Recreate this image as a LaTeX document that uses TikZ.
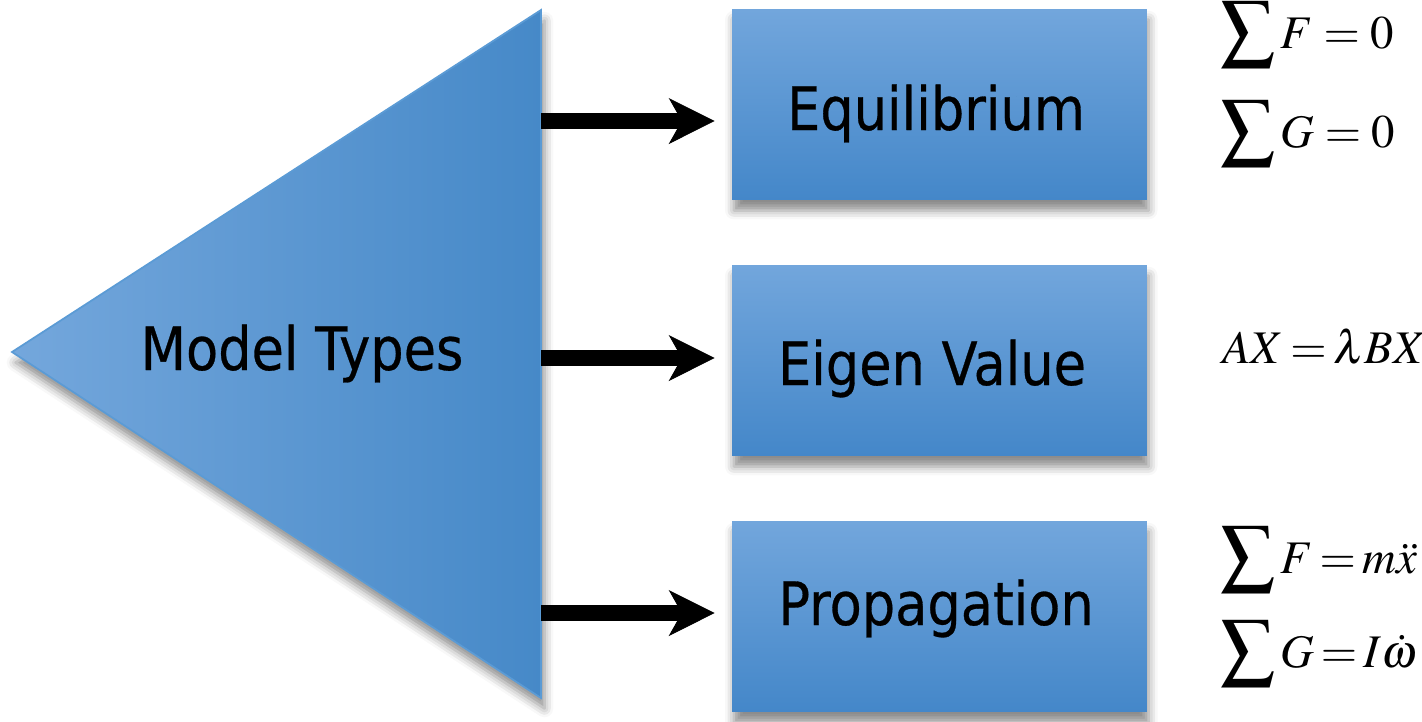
\documentclass[tikz,border=0pt]{standalone}
\usepackage{mathptmx}
\usepackage[no-math]{fontspec}
\newfontfamily\boxfont{DejaVu Sans}[FakeStretch=0.88, FakeBold=0.5]
\usetikzlibrary{arrows.meta,shadows.blur}
\definecolor{triL}{HTML}{74A7DC}
\definecolor{triR}{HTML}{4689C8}
\definecolor{boxT}{HTML}{72A6DC}
\definecolor{boxB}{HTML}{4487C9}
\definecolor{triEdge}{HTML}{5B9BD5}
\newcommand{\bigsum}{\smash{\scalebox{1.15}{$\displaystyle\sum$}}\,}
\begin{document}
\begin{tikzpicture}[x=0.02cm, y=-0.02cm, line join=miter,
    modelbox/.style={rectangle, inner sep=0pt, minimum width=8.3cm, minimum height=3.82cm,
      top color=boxT, bottom color=boxB,
      blur shadow={shadow xshift=1pt, shadow yshift=-6pt, shadow blur radius=5pt, shadow opacity=45}},
    boxtext/.style={inner sep=0pt, anchor=base, font=\boxfont\fontsize{34}{40}\selectfont},
    eqtext/.style={inner sep=0pt, anchor=base west, font=\fontsize{26.6}{30}\selectfont},
    flowarrow/.style={draw=black, line width=0.32cm, shorten >=0.34cm,
      -{Stealth[length=0.92cm, width=0.92cm, inset=0.26cm, line width=0.5pt, fill=black]}}]
  \useasboundingbox (0,0) rectangle (1422,721);
  % triangle
  \coordinate (apex) at (12,352);
  \coordinate (ttop) at (541,10);
  \coordinate (tbot) at (541,698);
  \shade[left color=triL, right color=triR, draw=triEdge, line width=1pt,
    blur shadow={shadow xshift=2pt, shadow yshift=-6pt, shadow blur radius=5pt, shadow opacity=45}]
    (apex) -- (ttop) -- (tbot) -- cycle;
  \node[boxtext] (model) at (302,370) {Model Types};
  % boxes
  \node[modelbox] (equ) at (939.5,104.5) {};
  \node[modelbox] (eig) at (939.5,360.5) {};
  \node[modelbox] (pro) at (939.5,616.5) {};
  \node[boxtext] (equt) at (936,130) {Equilibrium};
  \node[boxtext] (eigt) at (932,385) {Eigen Value};
  \node[boxtext] (prot) at (936,625) {Propagation};
  % arrows
  \coordinate (outA) at (541,121);
  \coordinate (outB) at (541,358);
  \coordinate (outC) at (541,613);
  \draw[flowarrow] (outA) -- (outA -| equ.west);
  \draw[flowarrow] (outB) -- (outB -| eig.west);
  \draw[flowarrow] (outC) -- (outC -| pro.west);
  % equations
  \node[eqtext] (eqF) at (1220,48) {$\bigsum F = 0$};
  \node[eqtext] (eqG) at (1220,147) {$\bigsum G = 0$};
  \node[eqtext] (eqL) at (1222,363) {$AX\:{=}\:\lambda BX$};
  \node[eqtext] (prF) at (1220,573) {$\bigsum F\:{=}\:m\ddot{x}$};
  \node[eqtext] (prG) at (1220,667) {$\bigsum G\:{=}\:I\dot{\omega}$};
\end{tikzpicture}
\end{document}
